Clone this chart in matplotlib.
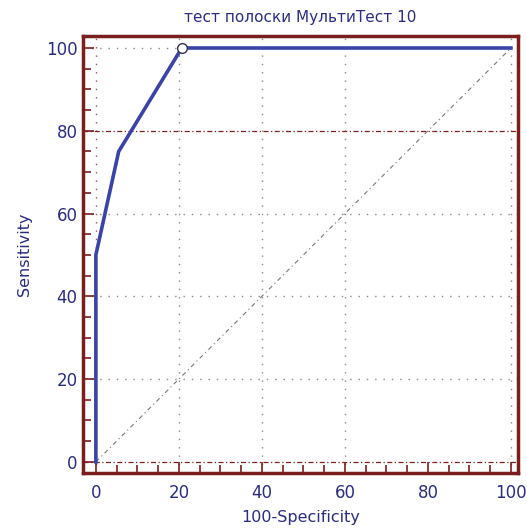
import matplotlib
matplotlib.use("Agg")
import matplotlib.pyplot as plt
from matplotlib.ticker import MultipleLocator

fpr = [0, 0, 5.5, 20.7, 100]
tpr = [0, 50, 75, 100, 100]
crit_x = [20.7]
crit_y = [100]
ticks = [0, 20, 40, 60, 80, 100]
title = "тест полоски МультиТест 10"

navy = "#2b2d7c"
line_c = "#3b43a6"
spine_c = "#7a1e1e"

plt.rcParams['font.family'] = ['DejaVu Sans']
fig = plt.figure(figsize=(5.27, 5.31), dpi=100)
ax = fig.add_axes([83/527, 1-473/531, (518-83)/527, (473-36)/531])

ax.set_xlim(-3.1, 101.7)
ax.set_ylim(-2.7, 102.9)

# grid lines
for t in [20, 40, 60, 100]:
    ax.plot([t, t], [-2.7, 102.9], color="#888888", lw=1.0, ls=(0, (1, 5)), zorder=1)
for t in [20, 40, 60, 100]:
    ax.plot([-3.1, 101.7], [t, t], color="#888888", lw=1.0, ls=(0, (1, 5)), zorder=1)
ax.plot([0, 0], [-2.7, 102.9], color="#a05050", lw=1.0, ls=(0, (1, 5)), zorder=1)
ax.axhline(80, color=spine_c, lw=0.9, ls=(0, (4, 2, 1, 2)), zorder=1)
ax.axhline(0, color=spine_c, lw=0.9, ls=(0, (4, 2, 1, 2)), zorder=1)
# diagonal reference
ax.plot([0, 100], [0, 100], color="#777777", lw=0.8, ls=(0, (4, 3, 1, 3)), zorder=1)

ax.plot(fpr, tpr, color=line_c, lw=2.6, zorder=3, solid_joinstyle="round")
ax.plot(crit_x, crit_y, "o", ms=7, mfc="white", mec="#333355", mew=1.0, zorder=4)

ax.set_xticks(ticks)
ax.set_yticks(ticks)
ax.xaxis.set_minor_locator(MultipleLocator(5))
ax.yaxis.set_minor_locator(MultipleLocator(5))
ax.tick_params(which="both", direction="in", color=spine_c, width=1.2,
               labelcolor=navy, labelsize=12)
ax.tick_params(which="major", length=8)
ax.tick_params(which="minor", length=6)
ax.tick_params(axis="x", pad=8)
ax.tick_params(axis="y", pad=4)

for s in ax.spines.values():
    s.set_color(spine_c)
    s.set_linewidth(2.5)

ax.set_title(title, color=navy, fontsize=11, pad=10)
ax.set_xlabel("100-Specificity", color=navy, fontsize=11.5, labelpad=6)
ax.set_ylabel("Sensitivity", color=navy, fontsize=11.5, labelpad=10)

fig.savefig("out.png", dpi=100)
